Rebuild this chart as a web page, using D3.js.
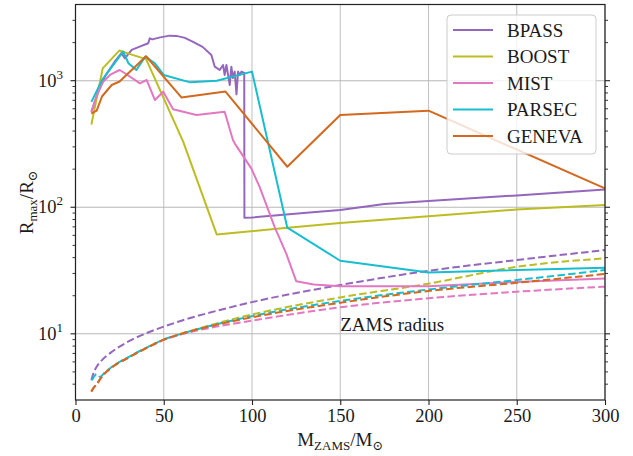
<!DOCTYPE html>
<html>
<head>
<meta charset="utf-8">
<script src="https://cdn.jsdelivr.net/npm/d3@7"></script>
<style>
  body { margin: 0; background: #fff; }
  text { font-family: "Liberation Serif", "DejaVu Serif", serif; fill: #1a1a1a; }
</style>
</head>
<body>
<div id="chart"></div>
<script>

const FRAME_WIDTH = 633;
const FRAME_HEIGHT = 456;
const MARGINS = {left: 75.5, right: 28, top: 4.5, bottom: 56};

const models = ["BPASS", "BOOST", "MIST", "PARSEC", "GENEVA"];
const colors = ["#9467bd", "#bcbd22", "#e377c2", "#17becf", "#d2691e"];

// max radius vs initial mass
const bpassM = [9, 13, 17, 22, 26, 28, 31.8, 36, 41.2, 42.1, 43.5, 48, 53.4, 57.2, 62, 66.6, 72, 77, 78.9, 81.7,
                83.6, 84.5, 85.5, 86.5, 87.4, 88.3, 89.2, 90.2, 91.2, 92.1, 93, 94, 95.6, 95.7, 100, 132.6, 150, 175, 200, 250, 300];
const bpassR = [570, 820, 1100, 1400, 1650, 1500, 1750, 1850, 1976, 2163, 2120, 2200, 2270, 2260, 2180, 2030, 1850, 1597, 1290, 1215,
                1330, 1110, 1330, 1100, 925, 1290, 1050, 1180, 780, 1180, 1110, 1180, 1150, 82.6, 83, 91, 95, 106, 112, 124, 138];

const boostM = [9, 15.4, 24.8, 32.3, 40, 61, 80, 115.6, 150, 200, 250, 300];
const boostR = [450, 1250, 1730, 1600, 1480, 330, 61, 68, 75, 85, 96, 104];

const mistM = [9, 12, 15.7, 19.5, 25, 28, 36.5, 40.3, 45, 49.7, 55.3, 68.5, 84.5, 89.2, 90.2, 99.6, 104.3, 112.8, 119.4, 125.1, 135, 150, 200, 250, 300];
const mistR = [560, 770, 980, 1110, 1215, 1145, 953, 1013, 703, 819, 594, 535, 569, 340, 320, 203, 145, 70, 43, 26, 24.5, 23.8, 23.8, 25.7, 27.4];

const parsecM = [9, 15, 27, 30, 34.5, 39.5, 45, 50, 65, 80, 100, 120, 150, 200, 300];
const parsecR = [680, 1010, 1700, 1373, 1215, 1550, 1373, 1110, 970, 1000, 1180, 69, 37.8, 30.5, 33.3];

const genevaM = [9, 12, 15, 20.5, 25, 40, 60, 85, 120, 150, 200, 300];
const genevaR = [550, 580, 750, 925, 985, 1560, 737, 820, 209, 536, 580, 141];

// ZAMS radius (dashed)
const zamsM = [9, 10, 12, 15, 20, 30, 40, 50, 60, 80, 100, 150, 200, 250, 300];
const bpassZ  = [4.3, 4.8, 5.5, 6.2, 7.1, 8.7, 10.1, 11.4, 12.7, 15.2, 17.8, 24.3, 31.5, 38.3, 45.9];
const boostZ  = [3.5, 3.7, 4.0, 4.6, 5.35, 6.5, 7.7, 9.0, 10.0, 12.1, 14.2, 19.4, 24.9, 33.8, 39.5];
const mistZ   = [3.5, 3.7, 4.0, 4.6, 5.35, 6.5, 7.7, 8.95, 9.9, 11.4, 12.7, 16.2, 19.1, 21.5, 23.6];
const genevaZ = [3.5, 3.7, 4.0, 4.6, 5.35, 6.5, 7.7, 9.0, 10.0, 11.8, 13.5, 17.6, 21.8, 25.3, 29.7];
const parsecZM = [9.3, 12, 13.9, 16.3, 20, 30, 40, 50, 60, 80, 100, 150, 200, 250, 300];
const parsecZ  = [4.3, 4.8, 4.57, 4.9, 5.4, 6.55, 7.75, 9.0, 10.0, 11.9, 13.8, 18.2, 22.4, 26.6, 31.9];

const xTicks = [0, 50, 100, 150, 200, 250, 300];
const yMajor = [10, 100, 1000];
const yExp = ["1", "2", "3"];
const yMinor = [4, 5, 6, 7, 8, 9, 20, 30, 40, 50, 60, 70, 80, 90, 200, 300, 400, 500, 600, 700, 800, 900, 2000, 3000];

const solid = [
  d3.zip(bpassM, bpassR), d3.zip(boostM, boostR), d3.zip(mistM, mistR),
  d3.zip(parsecM, parsecR), d3.zip(genevaM, genevaR)
];
const dashed = [
  d3.zip(zamsM, bpassZ), d3.zip(zamsM, boostZ), d3.zip(zamsM, mistZ),
  d3.zip(parsecZM, parsecZ), d3.zip(zamsM, genevaZ)
];

const svg = d3.select("#chart")
  .append("svg")
    .attr("width", FRAME_WIDTH)
    .attr("height", FRAME_HEIGHT);

const X = d3.scaleLinear()
  .domain([0, 300])
  .range([MARGINS.left, FRAME_WIDTH - MARGINS.right]);

const Y = d3.scaleLog()
  .domain([3, 4000])
  .range([FRAME_HEIGHT - MARGINS.bottom, MARGINS.top]);

const x0 = X.range()[0], x1 = X.range()[1];
const y0 = Y.range()[0], y1 = Y.range()[1];

// grid
svg.append("g").selectAll("line").data(xTicks).enter().append("line")
  .attr("x1", d => X(d)).attr("x2", d => X(d))
  .attr("y1", y1).attr("y2", y0)
  .attr("stroke", "#c4c4c4").attr("stroke-width", 1.1);
svg.append("g").selectAll("line").data(yMajor).enter().append("line")
  .attr("x1", x0).attr("x2", x1)
  .attr("y1", d => Y(d)).attr("y2", d => Y(d))
  .attr("stroke", "#b8b8b8").attr("stroke-width", 1.1);

// lines
const plot = svg.append("g");
const line = d3.line().x(d => X(d[0])).y(d => Y(d[1]));
const smooth = d3.line().x(d => X(d[0])).y(d => Y(d[1])).curve(d3.curveMonotoneX);

models.forEach((m, i) => {
  plot.append("path")
    .attr("d", line(solid[i]))
    .attr("fill", "none")
    .attr("stroke", colors[i])
    .attr("stroke-width", 2)
    .attr("stroke-linejoin", "round");
  plot.append("path")
    .attr("d", smooth(dashed[i]))
    .attr("fill", "none")
    .attr("stroke", colors[i])
    .attr("stroke-width", 2)
    .attr("stroke-dasharray", "7.5,3.3");
});

// axes
const xAxis = svg.append("g")
  .attr("transform", "translate(0," + y0 + ")")
  .call(d3.axisBottom(X).tickValues(xTicks).tickSize(5).tickPadding(4).tickFormat(d3.format("d")));
xAxis.select(".domain").remove();
xAxis.selectAll("line").attr("stroke", "#222").attr("stroke-width", 1.1);
xAxis.selectAll("text").attr("font-size", "18.5px").attr("fill", "#1a1a1a")
  .style("font-family", "'Liberation Serif', serif");

[["left", x0, -1], ["right", x1, 1]].forEach(([side, xp, dir]) => {
  const g = svg.append("g");
  g.selectAll(".maj").data(yMajor).enter().append("line")
    .attr("x1", xp).attr("x2", xp + dir * 5)
    .attr("y1", d => Y(d)).attr("y2", d => Y(d))
    .attr("stroke", "#222").attr("stroke-width", 1.1);
  g.selectAll(".min").data(yMinor).enter().append("line")
    .attr("x1", xp).attr("x2", xp + dir * 3)
    .attr("y1", d => Y(d)).attr("y2", d => Y(d))
    .attr("stroke", "#222").attr("stroke-width", 0.9);
});

const yl = svg.append("g").selectAll("text").data(yMajor).enter().append("text")
  .attr("x", 63).attr("y", d => Y(d) + 6)
  .attr("text-anchor", "end")
  .attr("font-size", "18.5px");
yl.append("tspan").text("10");
yl.append("tspan").text((d, i) => yExp[i])
  .attr("font-size", "13px").attr("dy", -8);

// frame
svg.append("rect")
  .attr("x", x0).attr("y", y1)
  .attr("width", x1 - x0).attr("height", y0 - y1)
  .attr("fill", "none").attr("stroke", "#222").attr("stroke-width", 1.2);

// legend
const lg = svg.append("g");
lg.append("rect")
  .attr("x", 447).attr("y", 15).attr("width", 149).attr("height", 139)
  .attr("rx", 4)
  .attr("fill", "white").attr("fill-opacity", 0.8)
  .attr("stroke", "#cccccc").attr("stroke-width", 1);
models.forEach((m, i) => {
  const cy = 30 + i * 26.5;
  lg.append("line")
    .attr("x1", 453).attr("x2", 493).attr("y1", cy).attr("y2", cy)
    .attr("stroke", colors[i]).attr("stroke-width", 2);
  lg.append("text")
    .attr("x", 507).attr("y", cy + 6.5)
    .attr("font-size", "19px")
    .text(m);
});

// annotation
svg.append("text")
  .attr("x", X(150)).attr("y", Y(10.6))
  .attr("font-size", "19px")
  .text("ZAMS radius");

// axis labels
const xl = svg.append("text")
  .attr("x", (x0 + x1) / 2).attr("y", 446)
  .attr("text-anchor", "middle")
  .attr("font-size", "19px");
xl.append("tspan").text("M");
xl.append("tspan").text("ZAMS").attr("font-size", "13px").attr("dy", 4);
xl.append("tspan").text("/M").attr("dy", -4);
xl.append("tspan").text("\u2299").attr("font-size", "13px").attr("dy", 4);

const ylab = svg.append("text")
  .attr("transform", "translate(33," + ((y0 + y1) / 2) + ") rotate(-90)")
  .attr("text-anchor", "middle")
  .attr("font-size", "19px");
ylab.append("tspan").text("R");
ylab.append("tspan").text("max").attr("font-size", "13px").attr("dy", 4);
ylab.append("tspan").text("/R").attr("dy", -4);
ylab.append("tspan").text("\u2299").attr("font-size", "13px").attr("dy", 4);

</script>
</body>
</html>
